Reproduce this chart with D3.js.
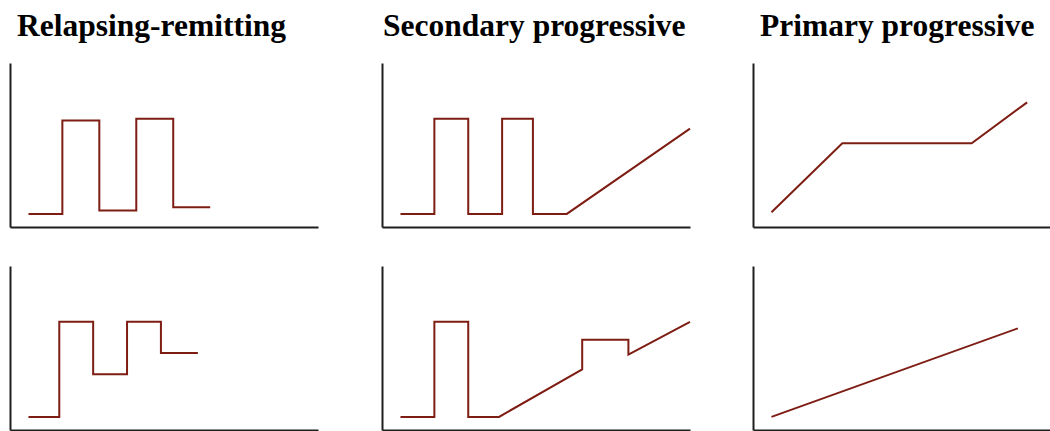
<!DOCTYPE html>
<html>
<head>
<meta charset="utf-8">
<script src="https://cdn.jsdelivr.net/npm/d3@7"></script>
<style>
  html, body { margin: 0; padding: 0; background: #fff; }
  svg { display: block; }
</style>
</head>
<body>
<svg width="1050" height="431"></svg>
<script>
// column titles
const titles = ['Relapsing-remitting', 'Secondary progressive', 'Primary progressive'];

// disability course, [time, disability] on a 0-10 scale, top row then bottom row
const relapsingTop = [[0.6, 0.8], [1.7, 0.8], [1.7, 6.5], [2.9, 6.5], [2.9, 1.0], [4.1, 1.0],
    [4.1, 6.6], [5.3, 6.6], [5.3, 1.2], [6.5, 1.2]];
const relapsingBottom = [[0.6, 0.8], [1.6, 0.8], [1.6, 6.6], [2.7, 6.6], [2.7, 3.4], [3.8, 3.4],
    [3.8, 6.6], [4.9, 6.6], [4.9, 4.7], [6.1, 4.7]];
const secondaryTop = [[0.6, 0.8], [1.7, 0.8], [1.7, 6.6], [2.8, 6.6], [2.8, 0.8], [3.9, 0.8],
    [3.9, 6.6], [4.9, 6.6], [4.9, 0.8], [6.0, 0.8], [10, 6.0]];
const secondaryBottom = [[0.6, 0.8], [1.7, 0.8], [1.7, 6.6], [2.8, 6.6], [2.8, 0.8], [3.8, 0.8],
    [6.5, 3.7], [6.5, 5.5], [8.0, 5.5], [8.0, 4.6], [10, 6.6]];
const primaryTop = [[0.6, 0.9], [2.9, 5.1], [7.1, 5.1], [8.9, 7.6]];
const primaryBottom = [[0.6, 0.8], [8.6, 6.2]];

const seriesByColumn = [
    [relapsingTop, relapsingBottom],
    [secondaryTop, secondaryBottom],
    [primaryTop, primaryBottom]
];

// layout
const colLeft = [10, 382, 753];
const titleX = [17, 383, 760];
const plotWidth = 308;
const rows = [{ top: 63, bottom: 227 }, { top: 266, bottom: 430 }];

const lineColor = '#7d1d13';
const axisColor = '#1e1e1e';

var svg = d3.select('svg');

// titles
svg.selectAll('text.title')
    .data(titles)
    .enter()
    .append('text')
    .attr('class', 'title')
    .attr('x', function(d, i) { return titleX[i]; })
    .attr('y', 36)
    .attr('font-family', '"Liberation Serif", "Times New Roman", serif')
    .attr('font-weight', 'bold')
    .attr('font-size', '31.5px')
    .attr('fill', '#000')
    .text(function(d) { return d; });

// draw each small panel
seriesByColumn.forEach(function(column, c) {
    column.forEach(function(series, r) {
        var row = rows[r];
        var xScale = d3.scaleLinear().domain([0, 10]).range([colLeft[c], colLeft[c] + plotWidth]);
        var yScale = d3.scaleLinear().domain([0, 10]).range([row.bottom, row.top]);

        var g = svg.append('g');

        // axes without ticks, just the domain lines
        var xAxis = g.append('g')
            .attr('transform', 'translate(0,' + row.bottom + ')')
            .call(d3.axisBottom(xScale).ticks(0).tickSize(0).tickSizeOuter(0));
        var yAxis = g.append('g')
            .attr('transform', 'translate(' + colLeft[c] + ',0)')
            .call(d3.axisLeft(yScale).ticks(0).tickSize(0).tickSizeOuter(0));

        [xAxis, yAxis].forEach(function(a) {
            a.select('.domain')
                .attr('stroke', axisColor)
                .attr('stroke-width', 2);
            a.selectAll('.tick').remove();
        });

        var line = d3.line()
            .x(function(d) { return xScale(d[0]); })
            .y(function(d) { return yScale(d[1]); });

        g.append('path')
            .datum(series)
            .attr('fill', 'none')
            .attr('stroke', lineColor)
            .attr('stroke-width', 2)
            .attr('stroke-linejoin', 'miter')
            .attr('d', line);
    });
});
</script>
</body>
</html>
